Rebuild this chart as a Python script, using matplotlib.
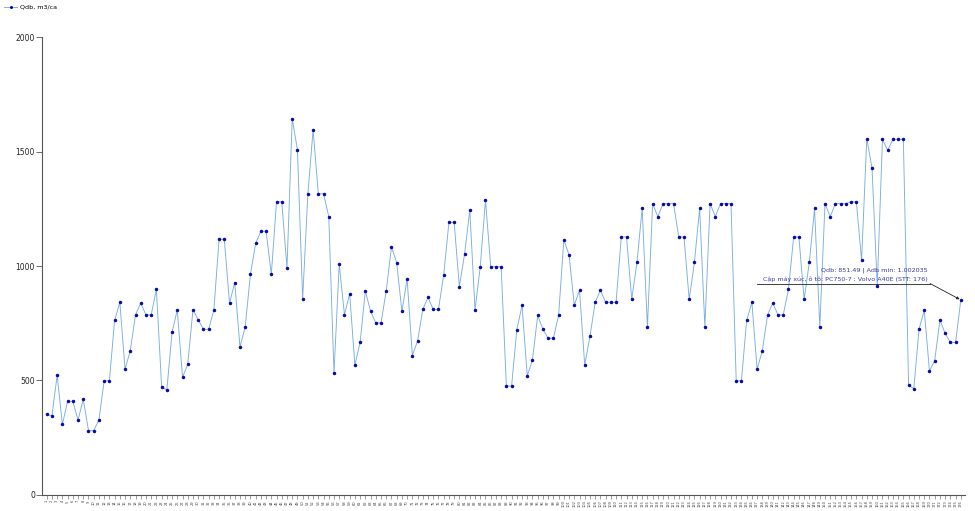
import matplotlib
matplotlib.use('Agg')
import matplotlib.pyplot as plt
from matplotlib.transforms import offset_copy

# Qdb, m3/ca for each STT (1..176)
qdb = [
    352, 344, 522, 307, 408, 408, 326, 417, 280, 280,
    326, 498, 498, 762, 841, 548, 630, 786, 838, 786,
    786, 898, 472, 458, 710, 808, 513, 570, 808, 765,
    723, 723, 808, 1117, 1117, 838, 927, 646, 733, 964,
    1099, 1152, 1152, 964, 1281, 1281, 991, 1644, 1509, 856,
    1316, 1595, 1316, 1316, 1216, 532, 1009, 787, 879, 566,
    666, 891, 802, 751, 751, 891, 1082, 1015, 802, 943,
    608, 672, 810, 863, 810, 810, 961, 1191, 1191, 910,
    1052, 1244, 808, 997, 1289, 997, 997, 997, 475, 475,
    721, 828, 519, 590, 784, 723, 684, 684, 784, 1115,
    1048, 828, 894, 567, 692, 841, 894, 841, 841, 841,
    1127, 1127, 854, 1016, 1252, 733, 1273, 1216, 1273, 1273,
    1273, 1127, 1127, 854, 1016, 1252, 733, 1273, 1216, 1273,
    1273, 1273, 498, 498, 762, 841, 548, 630, 786, 838,
    786, 786, 898, 1127, 1127, 854, 1016, 1252, 733, 1273,
    1216, 1273, 1273, 1273, 1281, 1281, 1025, 1557, 1429, 914,
    1554, 1506, 1554, 1554, 1554, 479, 463, 724, 806, 541,
    586, 764, 705, 666, 666, 851.49,
]
stt = list(range(1, len(qdb) + 1))
y_ticks = [0, 500, 1000, 1500, 2000]
series_label = 'Qdb, m3/ca'
note_line1 = 'Qdb: 851.49 | Adb min: 1.002035'
note_line2 = 'Cập máy xúc, ô tô: PC750-7 ; Volvo A40E (STT: 176)'

line_color = '#7aaee0'
marker_color = '#0a0aa8'
note_color = '#3a3aa0'
axis_color = '#555555'

fig = plt.figure(figsize=(9.75, 5.11), dpi=100)
ax = fig.add_axes([42 / 975, 16.4 / 511, 923 / 975, 457.2 / 511])

ax.plot(stt, qdb, color=line_color, linewidth=0.65, marker='o',
        markersize=1.5, markerfacecolor=marker_color,
        markeredgecolor=marker_color, label=series_label)

ax.set_xlim(0.1, 176.8)
ax.set_ylim(0, 2000)
ax.set_yticks(y_ticks)
ax.set_xticks(stt)
ax.set_xticklabels([str(s) for s in stt], rotation=90, fontsize=2.6,
                   color='#444444')
ax.tick_params(axis='y', labelsize=5.5, length=4, width=0.6,
               color=axis_color, labelcolor='#222222', pad=1)
ax.tick_params(axis='x', length=3, width=0.4, color=axis_color, pad=1)

for side in ['top', 'right']:
    ax.spines[side].set_visible(False)
for side in ['left', 'bottom']:
    ax.spines[side].set_color(axis_color)
    ax.spines[side].set_linewidth(0.8)

# annotation for the last point
last_x, last_y = stt[-1], qdb[-1]
ax.annotate('', xy=(last_x, last_y), xycoords='data',
            xytext=(-30.7, 16.4), textcoords='offset pixels',
            arrowprops=dict(arrowstyle='-|>', color='#222222', lw=0.6,
                            mutation_scale=4, shrinkA=0, shrinkB=1))
ax.annotate(note_line2, xy=(last_x, last_y), xycoords='data',
            xytext=(-33, 17.5), textcoords='offset pixels',
            ha='right', va='bottom', fontsize=4.6, color=note_color)
ax.annotate(note_line1, xy=(last_x, last_y), xycoords='data',
            xytext=(-33, 26.5), textcoords='offset pixels',
            ha='right', va='bottom', fontsize=4.6, color=note_color)

# underline below the note text
tr = offset_copy(ax.transData, fig=fig, x=0, y=16.4, units='dots')
ax.plot([last_x - 203.7 / 5.223, last_x - 30.7 / 5.223], [last_y, last_y],
        transform=tr, color='#222222', linewidth=0.6, clip_on=False)

fig.legend(loc='upper left', bbox_to_anchor=(0.0, 1.0), frameon=False,
           fontsize=4.6, handlelength=2.0, handletextpad=0.5,
           borderaxespad=0.3, markerscale=0.8)

fig.savefig('out.png', dpi=100, facecolor='white')
